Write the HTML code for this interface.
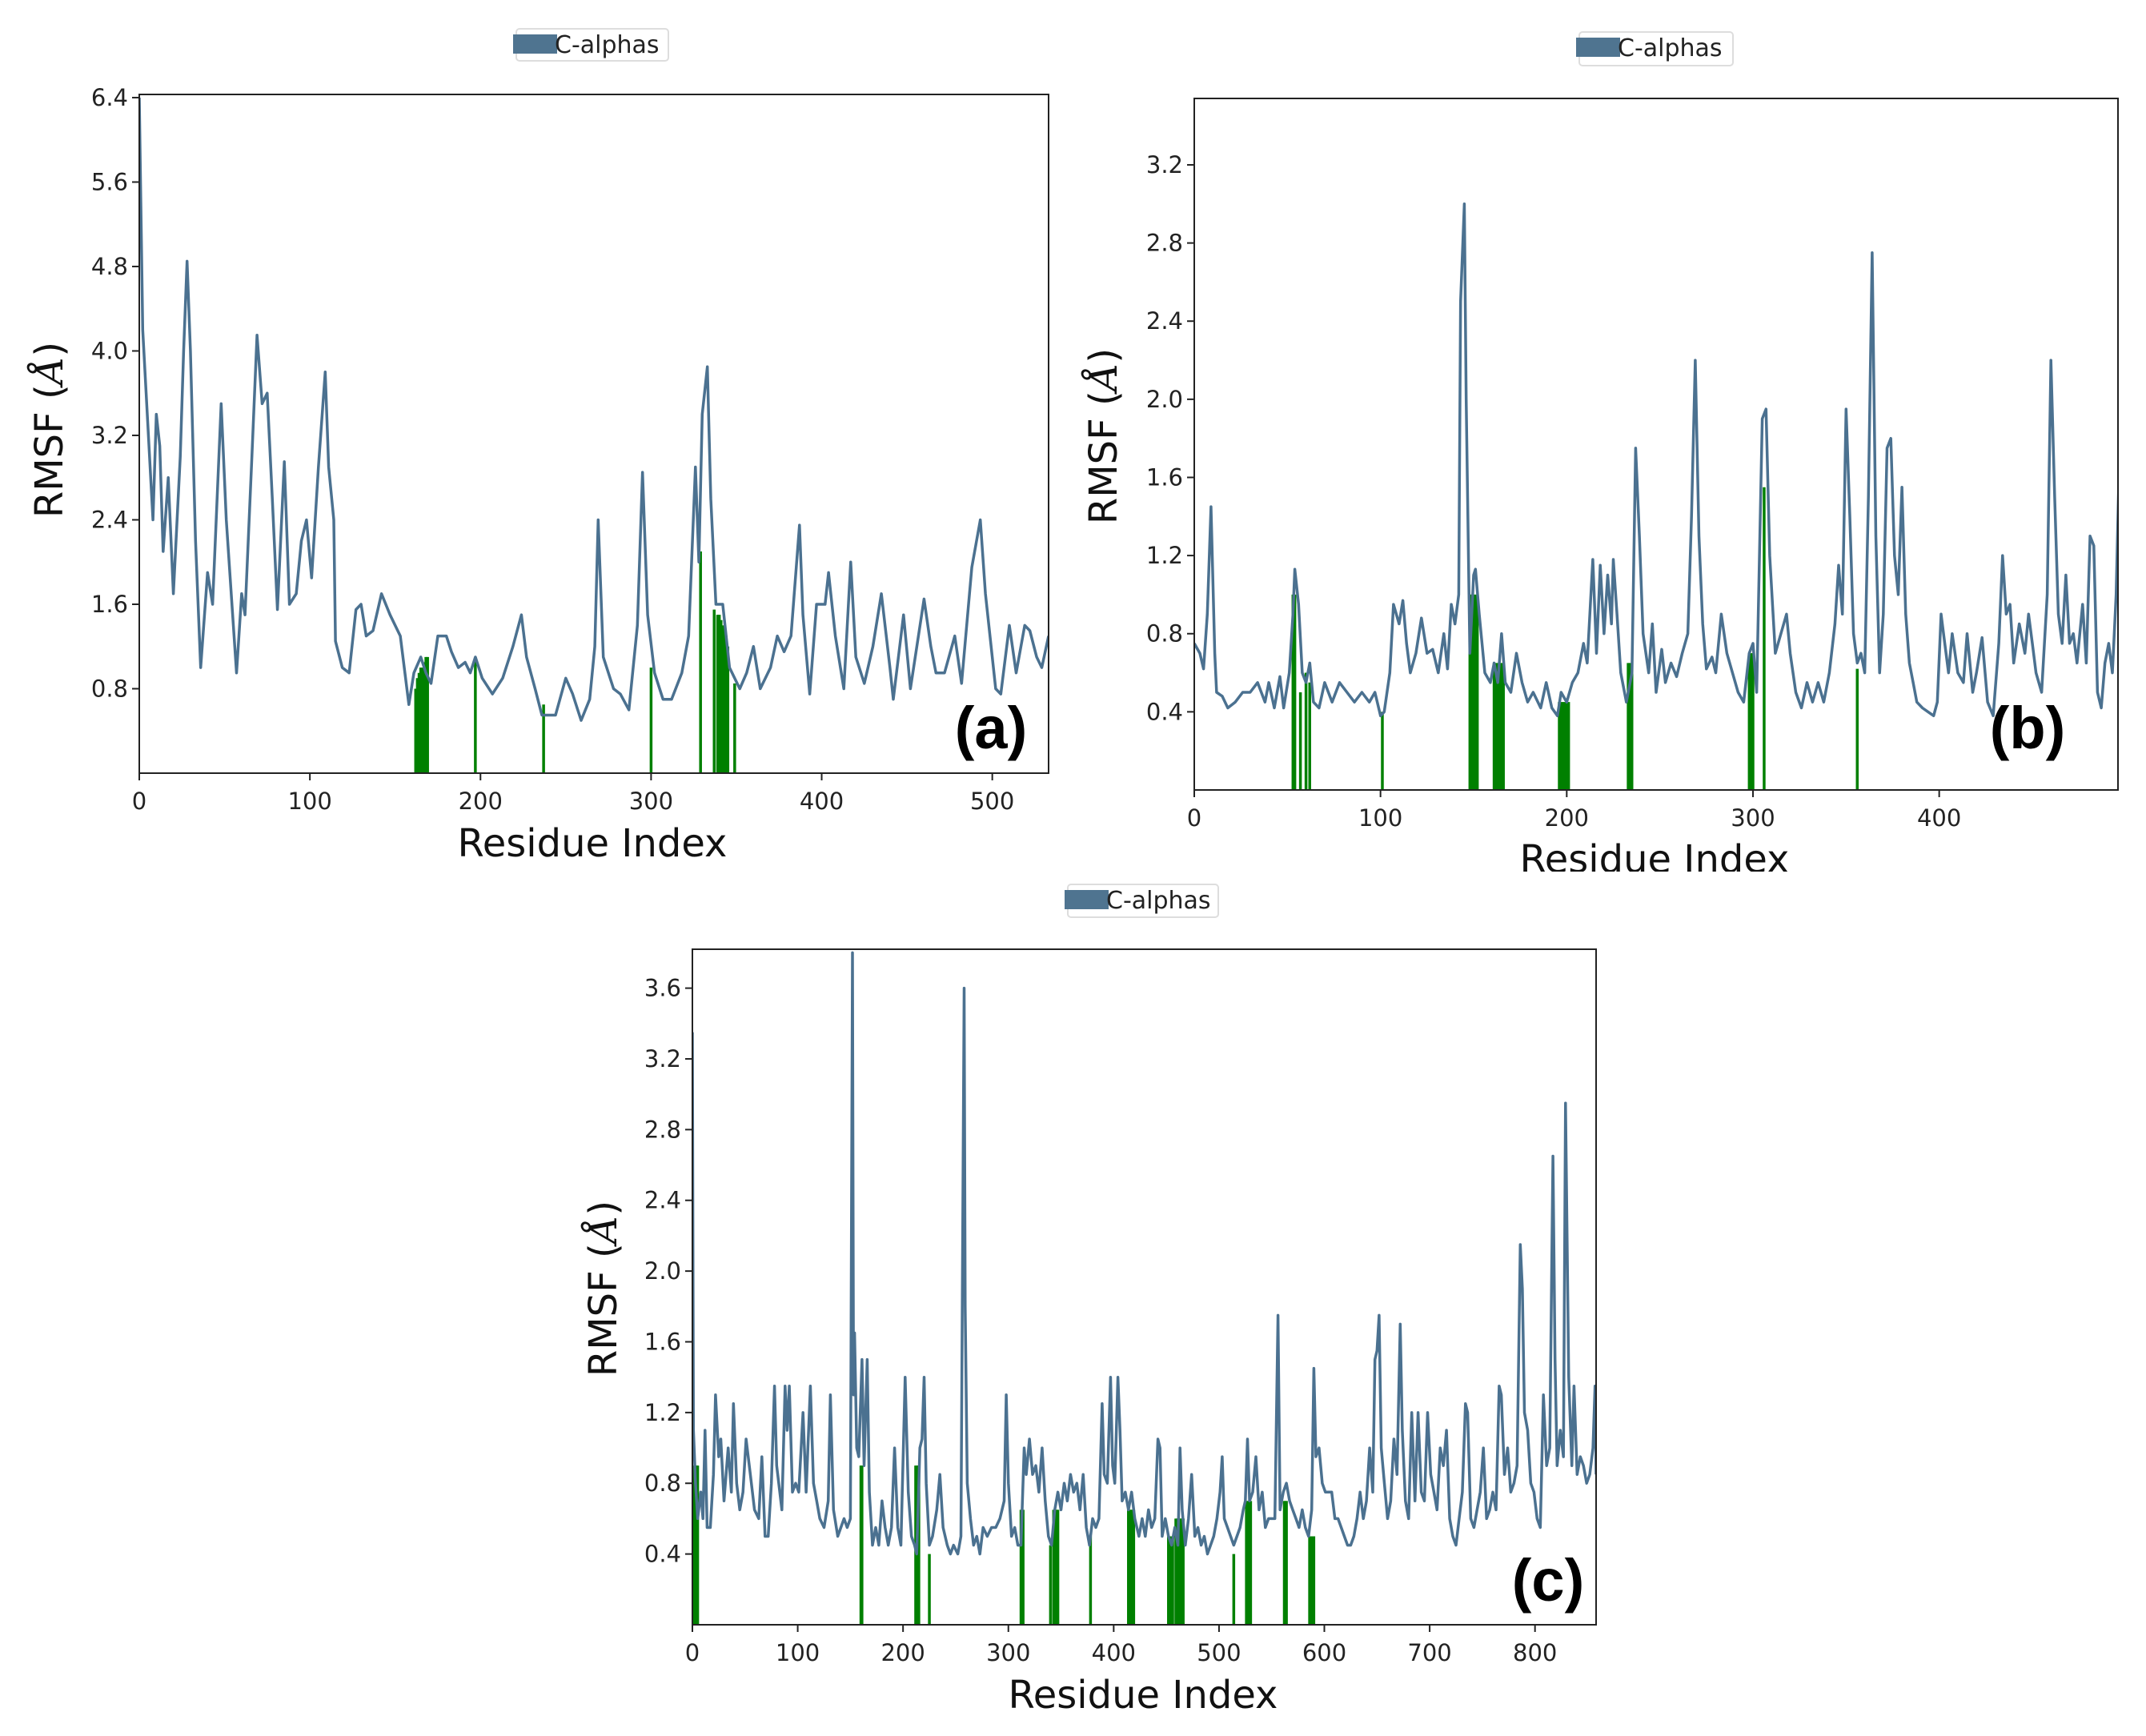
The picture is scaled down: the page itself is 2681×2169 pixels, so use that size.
<!DOCTYPE html>
<html><head><meta charset="utf-8"><style>
html,body{margin:0;padding:0;background:#fff;}
svg{display:block;font-family:"DejaVu Sans","Liberation Sans",sans-serif;}
</style></head><body>
<svg id="fig" width="2681" height="2169" viewBox="0 0 2681 2169" xmlns="http://www.w3.org/2000/svg">
<rect width="2681" height="2169" fill="#fff"/>
</svg>
<script>
// ---------- Panel (a) data ----------
const aRes=[0,2,5,8,10,12,14,17,20,24,26,28,30,33,36,40,43,48,51,57,60,62,66,69,72,75,78,81,85,88,92,95,98,101,105,109,111,114,115,119,123,127,130,133,137,142,147,153,158,161,165,168,171,175,180,183,187,191,194,197,201,207,213,219,224,227,232,236,240,244,250,254,259,264,267,269,272,278,282,287,292,295,298,302,307,312,318,322,326,328,330,333,335,338,342,346,352,356,360,364,370,374,378,382,387,389,393,397,402,404,408,413,417,420,425,430,435,440,442,448,452,460,464,467,472,478,482,488,493,496,502,505,510,514,519,522,526,529,533];
const aVal=[6.4,4.2,3.3,2.4,3.4,3.1,2.1,2.8,1.7,3.0,4.0,4.85,4.0,2.2,1.0,1.9,1.6,3.5,2.4,0.95,1.7,1.5,3.0,4.15,3.5,3.6,2.6,1.55,2.95,1.6,1.7,2.2,2.4,1.85,2.9,3.8,2.9,2.4,1.25,1.0,0.95,1.55,1.6,1.3,1.35,1.7,1.5,1.3,0.65,0.95,1.1,0.95,0.85,1.3,1.3,1.15,1.0,1.05,0.95,1.1,0.9,0.75,0.9,1.2,1.5,1.1,0.8,0.55,0.55,0.55,0.9,0.75,0.5,0.7,1.2,2.4,1.1,0.8,0.75,0.6,1.4,2.85,1.5,0.95,0.7,0.7,0.95,1.3,2.9,2.0,3.4,3.85,2.6,1.6,1.6,1.0,0.8,0.95,1.2,0.8,1.0,1.3,1.15,1.3,2.35,1.5,0.75,1.6,1.6,1.9,1.3,0.8,2.0,1.1,0.85,1.2,1.7,1.0,0.7,1.5,0.8,1.65,1.2,0.95,0.95,1.3,0.85,1.95,2.4,1.7,0.8,0.75,1.4,0.95,1.4,1.35,1.1,1.0,1.3];
const aGreenRes=[162,163,164,165,166,167,168,169,197,237,300,329,337,339,340,341,342,343,344,345,349];
const aGreenVal=[0.8,0.9,0.95,1.0,1.0,1.05,1.1,1.1,1.1,0.65,1.0,2.1,1.55,1.5,1.5,1.45,1.4,1.4,1.3,1.2,0.85];
const aYTicks=[0.8,1.6,2.4,3.2,4.0,4.8,5.6,6.4];
const aXTicks=[0,100,200,300,400,500];

// ---------- Panel (b) data ----------
const bRes=[0,3,5,7,9,11,12,15,18,22,26,30,34,38,40,43,46,48,51,53,54,56,58,60,62,64,67,70,74,78,82,86,90,94,97,100,102,105,107,110,112,114,116,119,122,125,128,131,134,136,138,140,142,143,145,146,148,150,151,153,156,159,161,163,165,167,170,173,176,179,182,186,189,192,195,197,200,203,206,209,211,214,216,218,220,222,224,225,227,229,232,235,237,239,241,244,246,248,251,253,256,259,262,265,267,269,271,273,275,278,280,283,286,289,292,295,298,300,302,305,307,309,312,315,318,320,323,326,329,332,335,338,341,344,346,348,350,352,354,356,358,360,362,364,366,368,370,372,374,376,378,380,382,384,386,388,391,394,397,399,401,403,405,407,410,413,415,418,420,423,426,429,432,434,436,438,440,443,446,448,450,452,455,458,460,462,464,466,468,470,472,474,477,479,481,483,485,487,489,491,493,495,497];
const bVal=[0.75,0.7,0.62,0.9,1.45,0.7,0.5,0.48,0.42,0.45,0.5,0.5,0.55,0.45,0.55,0.42,0.58,0.42,0.6,0.9,1.13,0.95,0.6,0.55,0.65,0.45,0.42,0.55,0.45,0.55,0.5,0.45,0.5,0.45,0.5,0.38,0.4,0.6,0.95,0.85,0.97,0.75,0.6,0.7,0.88,0.7,0.72,0.6,0.8,0.62,0.95,0.85,1.0,2.5,3.0,2.0,0.7,1.1,1.13,0.9,0.6,0.55,0.65,0.55,0.8,0.55,0.5,0.7,0.55,0.45,0.5,0.42,0.55,0.42,0.38,0.5,0.45,0.55,0.6,0.75,0.65,1.18,0.7,1.15,0.8,1.1,0.85,1.18,0.9,0.6,0.45,0.6,1.75,1.3,0.8,0.6,0.85,0.5,0.72,0.55,0.65,0.58,0.7,0.8,1.4,2.2,1.3,0.85,0.62,0.68,0.6,0.9,0.7,0.6,0.5,0.45,0.7,0.75,0.5,1.9,1.95,1.2,0.7,0.8,0.9,0.7,0.5,0.42,0.55,0.45,0.55,0.45,0.6,0.85,1.15,0.9,1.95,1.4,0.8,0.65,0.7,0.6,1.5,2.75,1.3,0.6,0.9,1.75,1.8,1.2,1.0,1.55,0.9,0.65,0.55,0.45,0.42,0.4,0.38,0.45,0.9,0.75,0.6,0.8,0.6,0.55,0.8,0.5,0.6,0.78,0.45,0.38,0.75,1.2,0.9,0.95,0.65,0.85,0.7,0.9,0.75,0.6,0.5,1.0,2.2,1.5,0.9,0.75,1.1,0.75,0.8,0.65,0.95,0.65,1.3,1.25,0.5,0.42,0.65,0.75,0.6,1.0,1.8];
const bGreenRes=[53,54,57,60,62,101,148,149,150,151,152,161,162,163,164,165,166,196,197,198,199,200,201,233,234,235,298,299,300,306,356];
const bGreenVal=[1.0,1.0,0.5,0.6,0.55,0.4,1.0,1.0,1.0,1.0,1.0,0.65,0.65,0.65,0.65,0.65,0.65,0.45,0.45,0.45,0.45,0.45,0.45,0.65,0.65,0.65,0.7,0.7,0.7,1.55,0.62];
const bYTicks=[0.4,0.8,1.2,1.6,2.0,2.4,2.8,3.2];
const bXTicks=[0,100,200,300,400];

// ---------- Panel (c) data ----------
const cRes=[0,1,3,5,8,10,12,14,17,20,22,25,27,30,34,37,39,42,45,48,51,55,59,63,66,69,72,75,78,80,83,85,88,90,92,95,98,101,105,108,112,115,118,121,125,129,131,134,138,141,144,147,150,152,153,154,156,158,161,163,166,168,171,174,177,180,183,186,189,192,195,198,202,205,208,211,213,216,218,220,222,225,228,232,235,238,242,245,248,252,255,258,259,261,264,267,270,273,276,280,284,288,292,296,298,300,303,306,309,312,315,317,320,323,326,329,332,335,338,341,344,347,350,353,356,359,362,365,368,371,374,377,380,383,386,389,391,394,397,399,401,404,406,408,411,414,417,420,424,427,430,433,436,439,442,444,446,449,452,455,458,461,463,465,468,471,474,477,480,483,486,489,492,495,498,501,503,505,508,511,514,517,520,523,525,527,529,532,535,538,541,544,547,550,553,556,558,561,564,567,570,573,576,579,582,585,588,590,592,595,598,601,604,607,610,613,616,619,622,625,628,631,634,637,640,643,646,648,650,652,654,657,660,663,666,669,672,674,677,680,683,686,689,692,695,698,701,704,707,710,713,716,719,722,725,728,731,734,736,739,742,745,748,751,754,757,760,763,766,768,771,774,777,780,783,786,788,790,793,796,799,802,805,808,811,814,817,819,821,824,827,829,832,835,837,840,843,846,849,852,855,857,858];
const cVal=[3.35,1.1,0.8,0.6,0.75,0.6,1.1,0.55,0.55,0.85,1.3,0.95,1.05,0.7,1.0,0.75,1.25,0.8,0.65,0.75,1.05,0.85,0.65,0.6,0.95,0.5,0.5,0.8,1.35,0.9,0.75,0.65,1.35,1.1,1.35,0.75,0.8,0.75,1.2,0.75,1.35,0.8,0.7,0.6,0.55,0.7,1.3,0.65,0.5,0.55,0.6,0.55,0.6,3.8,1.3,1.65,1.0,0.95,1.5,0.9,1.5,0.75,0.45,0.55,0.45,0.7,0.55,0.45,0.55,1.0,0.55,0.45,1.4,0.75,0.5,0.45,0.4,1.0,1.05,1.4,0.8,0.45,0.5,0.65,0.85,0.55,0.45,0.4,0.45,0.4,0.5,3.6,1.8,0.8,0.6,0.45,0.5,0.4,0.55,0.5,0.55,0.55,0.6,0.7,1.3,0.8,0.5,0.55,0.45,0.45,1.0,0.85,1.05,0.85,0.9,0.75,1.0,0.7,0.5,0.45,0.65,0.75,0.65,0.8,0.7,0.85,0.75,0.8,0.65,0.85,0.55,0.45,0.6,0.55,0.6,1.25,0.85,0.8,1.4,0.9,0.8,1.4,1.1,0.7,0.75,0.65,0.75,0.6,0.5,0.6,0.5,0.65,0.55,0.6,1.05,1.0,0.5,0.6,0.5,0.45,0.55,0.45,1.0,0.65,0.45,0.6,0.85,0.5,0.55,0.45,0.5,0.4,0.45,0.5,0.6,0.75,0.95,0.6,0.55,0.5,0.45,0.5,0.55,0.65,0.7,1.05,0.7,0.75,0.95,0.65,0.75,0.55,0.6,0.6,0.6,1.75,0.65,0.75,0.8,0.7,0.65,0.6,0.55,0.65,0.55,0.5,0.65,1.45,0.95,1.0,0.8,0.75,0.75,0.75,0.6,0.6,0.55,0.5,0.45,0.45,0.5,0.6,0.75,0.6,0.7,1.0,0.75,1.5,1.55,1.75,1.0,0.8,0.6,0.7,1.05,0.85,1.7,1.1,0.7,0.6,1.2,0.7,1.2,0.75,0.7,1.2,0.85,0.75,0.65,1.0,0.9,1.1,0.6,0.5,0.45,0.6,0.75,1.25,1.2,0.6,0.55,0.65,0.75,1.0,0.6,0.65,0.75,0.65,1.35,1.3,0.85,1.0,0.75,0.8,0.9,2.15,1.9,1.2,1.1,0.8,0.75,0.6,0.55,1.3,0.9,1.0,2.65,1.5,0.9,1.1,0.95,2.95,1.4,0.9,1.35,0.85,0.95,0.9,0.8,0.85,1.0,1.35,0.85];
const cGreenRes=[1,2,3,4,5,160,161,212,213,214,215,225,312,313,314,340,343,344,345,346,347,378,414,415,416,417,418,419,452,453,454,455,456,459,460,461,462,463,464,465,466,514,526,527,528,529,530,562,563,564,586,587,588,589,590];
const cGreenVal=[0.9,0.9,0.9,0.9,0.9,0.9,0.9,0.9,0.9,0.9,0.9,0.4,0.65,0.65,0.65,0.45,0.65,0.65,0.65,0.65,0.65,0.5,0.65,0.65,0.65,0.65,0.65,0.65,0.5,0.5,0.5,0.5,0.5,0.6,0.6,0.6,0.6,0.6,0.6,0.6,0.6,0.4,0.7,0.7,0.7,0.7,0.7,0.7,0.7,0.7,0.5,0.5,0.5,0.5,0.5];
const cYTicks=[0.4,0.8,1.2,1.6,2.0,2.4,2.8,3.2,3.6];
const cXTicks=[0,100,200,300,400,500,600,700,800];

const NS="http://www.w3.org/2000/svg";
const fig=document.getElementById('fig');
const LINE="#4b7190", GREEN="#008000";
function mk(tag,attrs,parent){const e=document.createElementNS(NS,tag);for(const k in attrs)e.setAttribute(k,attrs[k]);(parent||fig).appendChild(e);return e;}

function panel(id,box,xmax,ymax,res,val,gRes,gVal,yT,xT,leg,xlab,ylab,tag){
  const g=mk('g',{});
  
  
  const X=v=>box.l+(v/xmax)*(box.r-box.l);
  const Y=v=>box.b-(v/ymax)*(box.b-box.t);
  const clipId='clip-'+id;
  const cp=mk('clipPath',{id:clipId},g);mk('rect',{x:box.l,y:box.t,width:box.r-box.l,height:box.b-box.t},cp);
  // green bars
  for(let i=0;i<gRes.length;i++){
    const ln=mk('line',{x1:X(gRes[i]),x2:X(gRes[i]),y1:Y(0),y2:Y(gVal[i]),stroke:GREEN,'stroke-width':3.5,'clip-path':'url(#'+clipId+')'},g);
    
    
  }
  // line
  let d='';for(let i=0;i<res.length;i++)d+=(i?'L':'M')+X(res[i]).toFixed(1)+','+Y(val[i]).toFixed(1);
  const p=mk('path',{d:d,fill:'none',stroke:LINE,'stroke-width':3.5,'stroke-linejoin':'round','clip-path':'url(#'+clipId+')'},g);
  
  
  // frame
  const fr=mk('rect',{x:box.l,y:box.t,width:box.r-box.l,height:box.b-box.t,fill:'none',stroke:'#222','stroke-width':2},g);
  
  
  // y ticks
  yT.forEach(v=>{
    const y=Y(v);
    mk('line',{x1:box.l-9,x2:box.l,y1:y,y2:y,stroke:'#222','stroke-width':2},g);
    const t=mk('text',{x:box.l-14,y:y+10,'text-anchor':'end','font-size':29,fill:'#222'},g);
    t.textContent=v.toFixed(1);
    
    
  });
  xT.forEach(v=>{
    const x=X(v);
    mk('line',{x1:x,x2:x,y1:box.b,y2:box.b+9,stroke:'#222','stroke-width':2},g);
    const t=mk('text',{x:x,y:box.b+45,'text-anchor':'middle','font-size':29,fill:'#222'},g);
    t.textContent=v;
    
    
  });
  // x label
  const xl=mk('text',{x:xlab.x,y:xlab.y,'text-anchor':'middle','font-size':48,fill:'#111'},g);
  xl.textContent='Residue Index';
  
  
  // y label
  const yl=mk('text',{x:0,y:0,'text-anchor':'middle','font-size':48,fill:'#111',transform:'translate('+ylab.x+','+ylab.y+') rotate(-90)'},g);
  yl.appendChild(document.createTextNode('RMSF ('));
  const ts=mk('tspan',{'font-style':'italic','font-family':'"DejaVu Serif","Liberation Serif",serif'},yl);ts.textContent='Å';
  yl.appendChild(document.createTextNode(')'));
  
  
  // panel tag
  const tg=mk('text',{x:tag.x,y:tag.y,'text-anchor':'middle','font-size':74,'font-weight':'bold','font-family':'"Liberation Sans",sans-serif',fill:'#000'},g);
  tg.textContent='('+id+')';
  
  
  // legend
  const lg=mk('g',{},g);
  
  
  mk('rect',{x:leg.x,y:leg.y,width:leg.w,height:leg.h,rx:4,fill:'#fff',stroke:'#ddd','stroke-width':2},lg);
  mk('rect',{x:leg.x-4,y:leg.y+7,width:55,height:24,fill:'#4f7490'},lg);
  const lt=mk('text',{x:leg.x+48,y:leg.y+30,'font-size':30,fill:'#222'},lg);
  lt.textContent='C-alphas';
}

panel('a',{l:174,r:1310,t:118,b:966},533,6.43,aRes,aVal,aGreenRes,aGreenVal,aYTicks,aXTicks,
  {x:645,y:36,w:190,h:40},{x:740,y:1070},{x:78,y:537},{x:1238,y:935});
panel('b',{l:1492,r:2646,t:123,b:987},496,3.54,bRes,bVal,bGreenRes,bGreenVal,bYTicks,bXTicks,
  {x:1973,y:40,w:192,h:42},{x:2067,y:1090},{x:1395,y:545},{x:2533,y:935});
panel('c',{l:865,r:1994,t:1186,b:2030},858,3.82,cRes,cVal,cGreenRes,cGreenVal,cYTicks,cXTicks,
  {x:1334,y:1105,w:188,h:41},{x:1428,y:2134},{x:770,y:1610},{x:1934,y:2000});
// crop of panel (b) x-axis title, as in the reference
const crop=mk('rect',{x:1700,y:1089,width:700,height:20,fill:'#fff'});


</script>
</body></html>
